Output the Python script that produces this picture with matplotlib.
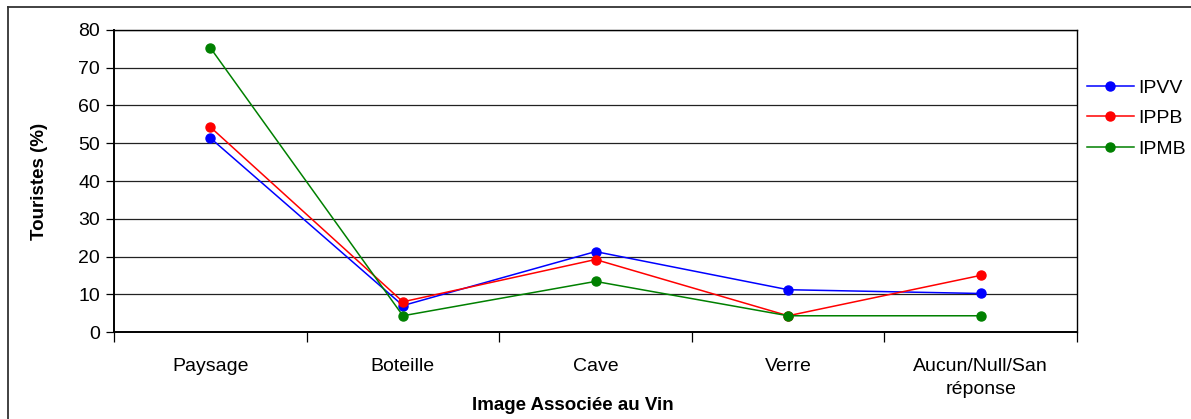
import matplotlib
matplotlib.use("Agg")
import matplotlib.pyplot as plt
from matplotlib.lines import Line2D

plt.rcParams["font.family"] = ["Liberation Sans", "DejaVu Sans"]

categories = ["Paysage", "Boteille", "Cave", "Verre", "Aucun/Null/San\nréponse"]
ipvv = [51.4, 7.0, 21.3, 11.2, 10.2]
ippb = [54.3, 8.0, 19.2, 4.3, 15.0]
ipmb = [75.3, 4.3, 13.4, 4.3, 4.3]

series = [("IPVV", ipvv, "#0000ff"), ("IPPB", ippb, "#ff0000"), ("IPMB", ipmb, "#008000")]

W, H = 1191, 419
fig = plt.figure(figsize=(W / 100, H / 100), dpi=100)
ax = fig.add_axes([114 / W, 1 - 332 / H, (1077 - 114) / W, (332 - 30) / H])

xpos = [i + 0.5 for i in range(len(categories))]
for name, vals, col in series:
    ax.plot(xpos, vals, color=col, lw=1.1, marker="o", ms=6.5, label=name)

ax.set_xlim(0, len(categories))
ax.set_ylim(0, 80)
ax.set_yticks(range(0, 81, 10))
ax.yaxis.grid(True, color="#222222", lw=0.9)
ax.set_axisbelow(True)

# category separators as major ticks, names as minor ticks
ax.set_xticks(range(len(categories) + 1))
ax.set_xticklabels([])
ax.set_xticks(xpos, minor=True)
ax.set_xticklabels(categories, minor=True, fontsize=14, linespacing=1.4)
ax.tick_params(axis="x", which="minor", length=0, pad=19)
ax.tick_params(axis="x", which="major", length=7, width=0.9, direction="out")
ax.tick_params(axis="y", length=6, width=0.9, direction="out", labelsize=14, pad=4)

for s in ax.spines.values():
    s.set_color("black")
    s.set_linewidth(1.0)
ax.spines["left"].set_linewidth(1.4)
ax.spines["bottom"].set_linewidth(1.4)

# axis titles placed in figure coordinates
fig.text(40 / W, 1 - 181 / H, "Touristes (%)", rotation=90, ha="center", va="center",
         fontsize=13.5, fontweight="bold")
fig.text(573 / W, 1 - 405 / H, "Image Associée au Vin", ha="center", va="center",
         fontsize=13.5, fontweight="bold")

leg = ax.legend(loc="center left", bbox_to_anchor=(1087 / W, 1 - 118.5 / H),
                bbox_transform=fig.transFigure, frameon=False, fontsize=14,
                handlelength=2.4, handletextpad=0.25, labelspacing=0.65,
                borderpad=0, borderaxespad=0)

# outer chart frame (top and left edges)
fig.add_artist(Line2D([8 / W, 1], [1 - 7 / H, 1 - 7 / H], transform=fig.transFigure,
                      color="#333333", lw=1.3))
fig.add_artist(Line2D([8 / W, 8 / W], [0, 1 - 7 / H], transform=fig.transFigure,
                      color="#333333", lw=1.3))

fig.savefig("out.png", dpi=100, facecolor="white")
